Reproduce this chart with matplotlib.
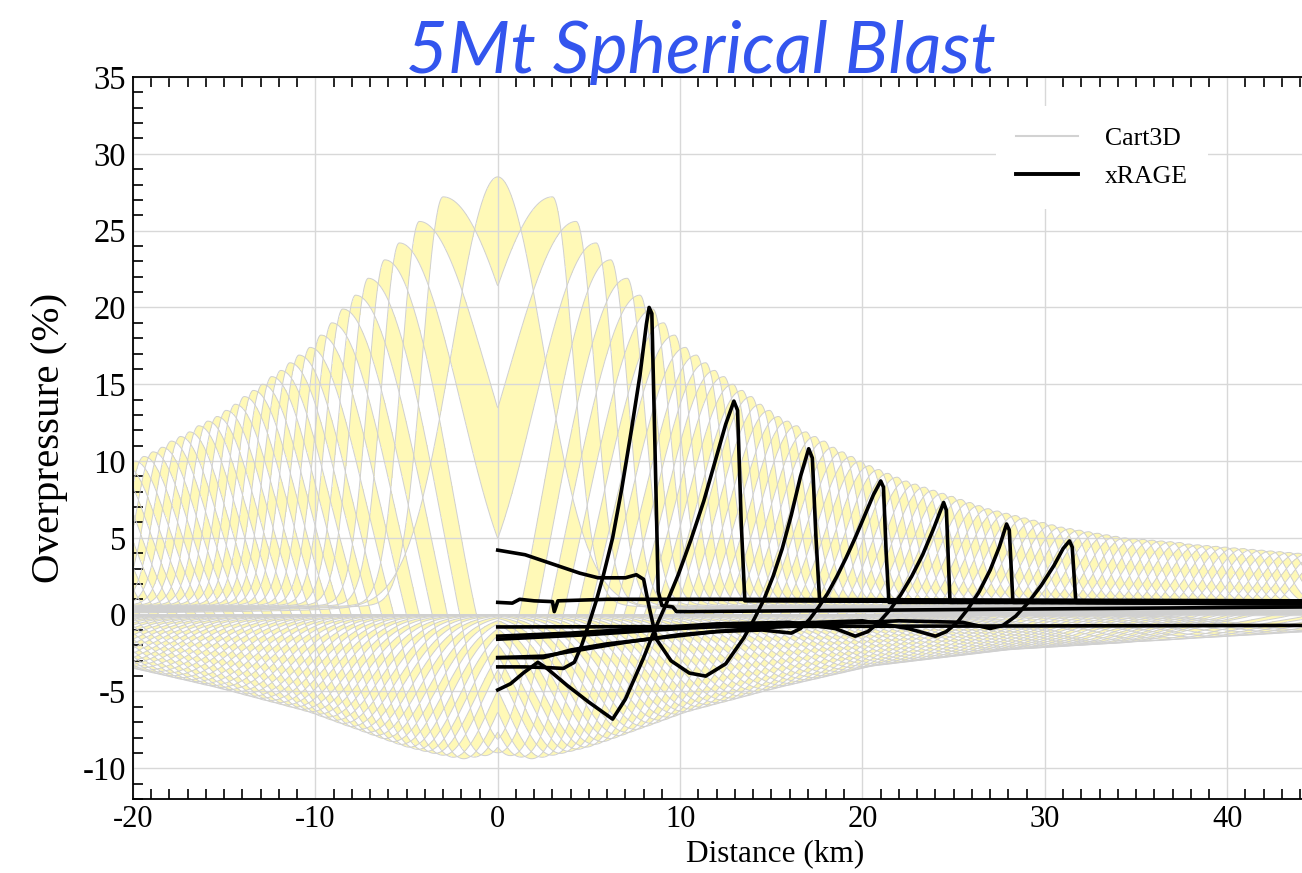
import numpy as np
import matplotlib
matplotlib.use("Agg")
import matplotlib.pyplot as plt
from matplotlib.lines import Line2D

plt.rcParams["axes.unicode_minus"] = False

# Cart3D snapshots: shock radius (km), peak and trough overpressure (%)
cart3d_radius = [0.0, 3.0, 4.3, 5.4, 6.2, 7.1, 7.8, 8.5, 9.1, 9.7, 10.3, 10.9,
                 11.4, 11.9, 12.4, 12.9, 13.4, 13.9, 14.4, 14.9, 15.4, 15.9, 16.4, 16.9,
                 17.4, 17.9, 18.4, 18.9, 19.4, 19.9, 20.4, 20.9, 21.4, 21.9, 22.4, 22.9,
                 23.4, 23.9, 24.4, 24.9, 25.4, 25.9, 26.4, 26.9, 27.4, 27.9, 28.4, 28.9,
                 29.4, 29.9, 30.4, 30.9, 31.4, 31.9, 32.4, 32.9, 33.4, 33.9, 34.4, 34.9,
                 35.4, 35.9, 36.4, 36.9, 37.4, 37.9, 38.4, 38.9, 39.4, 39.9, 40.4, 40.9,
                 41.4, 41.9, 42.4, 42.9, 43.4, 43.9, 44.4, 44.9, 45.4, 46.5, 47.5, 48.5,
                 49.5, 50.5, 51.5, 52.5, 53.5, 54.5, 55.5, 56.5, 57.5]
cart3d_peak = [28.5, 27.2, 25.6, 24.2, 23.1, 21.9, 20.8, 19.9, 19.0, 18.2, 17.4, 16.9,
               16.4, 15.9, 15.5, 15.0, 14.6, 14.2, 13.7, 13.3, 12.9, 12.6, 12.3, 11.9,
               11.6, 11.3, 10.9, 10.6, 10.3, 10.0, 9.7, 9.45, 9.2, 8.95, 8.7, 8.5,
               8.3, 8.1, 7.9, 7.7, 7.5, 7.3, 7.1, 6.9, 6.75, 6.6, 6.45, 6.3,
               6.15, 6.0, 5.85, 5.7, 5.6, 5.5, 5.4, 5.3, 5.2, 5.1, 5.0, 4.95,
               4.9, 4.85, 4.8, 4.75, 4.7, 4.6, 4.55, 4.5, 4.45, 4.4, 4.35, 4.3,
               4.25, 4.2, 4.15, 4.1, 4.05, 4.0, 3.95, 3.9, 3.85, 3.8, 3.75, 3.7,
               3.65, 3.6, 3.55, 3.5, 3.45, 3.4, 3.35, 3.3, 3.25]
cart3d_trough = [0.0, 0.0, -0.3, -2.5, -8.5, -9.7, -9.7, -9.65, -9.6, -9.6, -9.43, -9.25,
                 -9.1, -8.95, -8.8, -8.65, -8.46, -8.27, -8.07, -7.87, -7.67, -7.47, -7.28, -7.08,
                 -6.88, -6.68, -6.48, -6.32, -6.17, -6.03, -5.88, -5.74, -5.6, -5.45, -5.31, -5.16,
                 -5.02, -4.88, -4.74, -4.62, -4.49, -4.36, -4.24, -4.11, -3.98, -3.86, -3.73, -3.61,
                 -3.48, -3.38, -3.31, -3.25, -3.18, -3.12, -3.05, -2.99, -2.92, -2.86, -2.79, -2.73,
                 -2.66, -2.6, -2.53, -2.47, -2.4, -2.33, -2.29, -2.25, -2.22, -2.19, -2.15, -2.12,
                 -2.09, -2.05, -2.02, -1.99, -1.95, -1.92, -1.89, -1.86, -1.82, -1.75, -1.69, -1.62,
                 -1.55, -1.49, -1.42, -1.36, -1.29, -1.22, -1.16, -1.1, -1.05]

# xRAGE signatures (distance km, overpressure %)
xrage_1 = [(0, -3.4), (1.5, -3.4), (2.8, -3.45), (3.6, -3.5), (4.2, -3.1), (4.6, -2.0),
           (5.0, -0.6), (5.4, 0.9), (5.8, 2.6), (6.3, 5.0), (6.8, 8.2), (7.3, 11.8),
           (7.8, 15.6), (8.15, 18.9), (8.3, 20.0), (8.45, 19.6), (8.6, 12.0), (8.8, 1.5),
           (9.0, 0.6), (9.6, 0.5), (9.8, 0.2), (10.5, 0.2), (44.1, 0.5)]
xrage_2 = [(0, -4.9), (0.7, -4.5), (1.4, -3.8), (2.2, -3.1), (2.7, -3.5), (3.8, -4.6),
           (5.0, -5.7), (6.3, -6.8), (7.0, -5.5), (8.0, -2.8), (8.6, -1.0), (9.2, 0.6),
           (9.9, 2.6), (10.6, 4.9), (11.3, 7.4), (11.9, 9.9), (12.5, 12.4), (12.95, 13.9),
           (13.15, 13.3), (13.35, 6.0), (13.55, 0.9), (44.1, 0.8)]
xrage_3 = [(0, 4.2), (1.5, 3.9), (3.0, 3.3), (4.5, 2.7), (5.5, 2.4), (7.0, 2.4),
           (7.6, 2.6), (8.0, 2.3), (8.3, 0.5), (8.7, -1.6), (9.5, -3.0), (10.5, -3.8),
           (11.4, -4.0), (12.5, -3.2), (13.5, -1.5), (14.1, -0.2), (14.6, 1.0), (15.1, 2.5),
           (15.6, 4.3), (16.1, 6.5), (16.6, 9.0), (17.05, 10.8), (17.25, 10.2), (17.45, 5.0),
           (17.65, 0.9), (44.1, 0.9)]
xrage_4 = [(0, -2.8), (2.5, -2.8), (4.0, -2.3), (6.0, -1.9), (9.0, -1.5), (12.0, -1.1),
           (14.5, -1.0), (16.1, -1.2), (16.6, -0.9), (17.1, -0.3), (17.6, 0.5), (18.1, 1.4),
           (18.6, 2.5), (19.1, 3.7), (19.6, 5.0), (20.1, 6.4), (20.6, 7.8), (21.0, 8.7),
           (21.15, 8.3), (21.3, 4.0), (21.45, 0.8), (44.1, 0.8)]
xrage_5 = [(0, -1.4), (4, -1.2), (8, -0.9), (12, -0.6), (16, -0.5), (18.5, -0.9),
           (19.6, -1.4), (20.3, -1.1), (20.9, -0.5), (21.5, 0.3), (22.1, 1.3), (22.7, 2.5),
           (23.3, 3.9), (23.9, 5.6), (24.45, 7.3), (24.6, 6.8), (24.8, 0.8), (44.1, 0.8)]
xrage_6 = [(0, -1.6), (5, -1.3), (10, -0.9), (15, -0.6), (20, -0.4), (22.5, -0.9),
           (24.0, -1.4), (24.6, -1.1), (25.2, -0.5), (25.8, 0.4), (26.4, 1.5), (27.0, 2.9),
           (27.5, 4.4), (27.9, 5.9), (28.05, 5.5), (28.25, 0.8), (44.1, 0.7)]
xrage_7 = [(0, -2.8), (2.5, -2.7), (4.5, -2.3), (7, -1.8), (10, -1.3), (14, -0.9),
           (18, -0.6), (22, -0.4), (25.5, -0.5), (27, -0.9), (27.7, -0.7), (28.4, -0.1),
           (29.1, 0.8), (29.8, 1.9), (30.5, 3.2), (31.0, 4.3), (31.35, 4.8), (31.5, 4.4),
           (31.7, 0.8), (44.1, 0.7)]
xrage_8 = [(0, 0.8), (0.8, 0.75), (1.2, 1.0), (2.0, 0.9), (3.0, 0.85), (3.1, 0.2),
           (3.3, 0.9), (6.0, 1.0), (12.0, 1.0), (44.1, 0.9)]
xrage_9 = [(0, -0.8), (44.1, -0.7)]
xrage_all = [xrage_1, xrage_2, xrage_3, xrage_4, xrage_5, xrage_6, xrage_7, xrage_8, xrage_9]

XMIN, XMAX, YMIN, YMAX = -20, 44.1, -12, 35


def cart3d_signature(x, r, peak, trough):
    s = np.abs(x)
    u = s - r
    wf = 1.3 + 2.2 * np.exp(-r / 1.5)
    wb = 2.2 + 6.0 * np.exp(-r / 7.0)
    x_t = max(0.0, 0.9 * (r - 7.5))
    dn = r - x_t
    wn = 2.6 + 0.05 * r
    amb = 0.85 * np.exp(-np.clip(u, 0, None) / 10.0)
    front = amb + (peak - amb) * np.exp(-(u / wf) ** 2)
    bu = np.clip(-u, 0, None)
    lobe = np.exp(-((bu - dn) / wn) ** 2) * (1 - np.exp(-(bu / 1.0) ** 2))
    back = peak * np.exp(-(bu / wb) ** 2) + trough * lobe
    return np.where(u > 0, front, back)


fig = plt.figure(figsize=(13.02, 8.73), dpi=100)
ax = fig.add_axes([133 / 1302, 1 - 799 / 873, 1 - 133 / 1302, (799 - 77) / 873])

xs = np.linspace(XMIN, XMAX, 1500)
ys = np.linspace(YMIN, YMAX, 1000)[:, None]
parity = np.zeros((ys.size, xs.size), dtype=bool)
curves = []
for r, pk, tr in zip(cart3d_radius, cart3d_peak, cart3d_trough):
    p = cart3d_signature(xs, r, pk, tr)
    curves.append(p)
    inside = ((ys > 0) & (ys < p[None, :])) | ((ys < 0) & (ys > p[None, :]))
    parity ^= inside

img = np.ones((ys.size, xs.size, 4))
img[..., 1] = 0.98
img[..., 2] = 0.72
img[..., 3] = parity.astype(float)
ax.imshow(img, extent=(XMIN, XMAX, YMIN, YMAX), origin="lower", aspect="auto",
          interpolation="nearest", zorder=0.2)

for p in curves:
    ax.plot(xs, p, color="#d0d0d0", lw=0.7, zorder=2)

for sig in xrage_all:
    sx, sy = zip(*sig)
    ax.plot(sx, sy, color="black", lw=2.6, zorder=3, solid_joinstyle="round")

ax.set_xlim(XMIN, XMAX)
ax.set_ylim(YMIN, YMAX)
ax.set_xticks(np.arange(-20, 41, 10))
ax.set_yticks(np.arange(-10, 36, 5))
ax.set_xticks(np.arange(-20, 45, 1), minor=True)
ax.set_yticks(np.arange(-12, 36, 1), minor=True)
ax.set_axisbelow(True)
ax.grid(True, which="major", color="#d8d8d8", lw=1.0)
ax.tick_params(which="major", length=0)
ax.tick_params(axis="y", which="major", labelsize=23.5, pad=5)
ax.tick_params(axis="x", which="major", labelsize=22, pad=4)
ax.tick_params(which="minor", direction="in", length=7, width=1.2, top=True,
               bottom=True, left=True, right=False)
for lab in ax.get_xticklabels() + ax.get_yticklabels():
    lab.set_family("Liberation Serif")
ax.spines["right"].set_visible(False)
for sp in ("left", "top", "bottom"):
    ax.spines[sp].set_linewidth(1.3)

ax.set_xlabel("Distance (km)", family="Liberation Serif", fontsize=22.5)
ax.xaxis.set_label_coords(0.549, -0.0555)
ax.set_ylabel("Overpressure (%)", family="Liberation Serif", fontsize=29.5)
ax.yaxis.set_label_coords(-0.056, 0.5)

handles = [Line2D([], [], color="#d2d2d2", lw=1.5), Line2D([], [], color="black", lw=2.8)]
leg = ax.legend(handles, ["Cart3D", "xRAGE"], loc="upper left",
                bbox_to_anchor=(0.727, 0.977), frameon=True, fancybox=False,
                prop={"family": "Liberation Serif", "size": 18.5}, handlelength=2.4,
                handletextpad=1.05, borderpad=0.8, labelspacing=0.6)
leg.get_frame().set_edgecolor("none")
leg.get_frame().set_facecolor("white")
leg.get_frame().set_alpha(1.0)
leg.set_zorder(5)

fig.text(0.538, 1 - 73 / 873, "5Mt Spherical Blast", color="#3355ee", fontsize=52,
         family="Lato", style="italic", ha="center", va="baseline")

fig.savefig("out.png", dpi=100)
